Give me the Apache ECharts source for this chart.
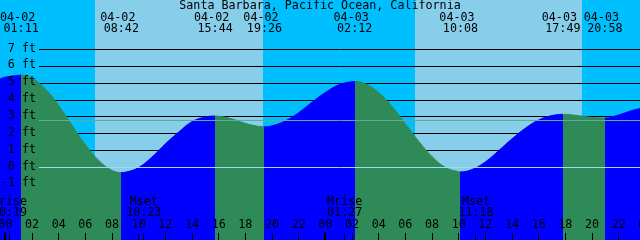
<!DOCTYPE html>
<html><head><meta charset="utf-8">
<script src="https://cdn.jsdelivr.net/npm/echarts@6/dist/echarts.min.js"></script>
<style>html,body{margin:0;padding:0;background:#00BFFF}#c{width:640px;height:240px}</style>
</head><body><div id="c"></div>
<script>
const titleText = 'Santa Barbara, Pacific Ocean, California';
// tide curve: hours since 04-02 00:00, height in feet
const tideHours = [-0.4, 0, 1, 1.18, 2, 3, 4, 5, 6, 7, 8, 8.7, 9, 10, 11, 12, 13, 14, 15, 15.73, 16, 17, 18, 19, 19.43, 20, 21, 22, 23, 24, 25, 26, 26.2, 27, 28, 29, 30, 31, 32, 33, 34, 34.13, 35, 36, 37, 38, 39, 40, 41, 41.82, 42, 43, 44, 44.97, 46, 47, 47.6];
const tideFeet = [5.26, 5.36, 5.47, 5.48, 5.30, 4.66, 3.68, 2.50, 1.36, 0.42, -0.17, -0.30, -0.28, 0.00, 0.62, 1.40, 2.10, 2.72, 3.00, 3.05, 3.04, 2.88, 2.62, 2.44, 2.42, 2.47, 2.76, 3.25, 3.87, 4.45, 4.90, 5.09, 5.10, 4.97, 4.45, 3.62, 2.60, 1.56, 0.65, 0.01, -0.25, -0.26, -0.12, 0.33, 1.00, 1.70, 2.33, 2.82, 3.08, 3.15, 3.15, 3.07, 2.97, 2.93, 3.12, 3.38, 3.50];
// high / low tide events
const extremaDates = ['04-02', '04-02', '04-02', '04-02', '04-03', '04-03', '04-03', '04-03'];
const extremaTimes = ['01:11', '08:42', '15:44', '19:26', '02:12', '10:08', '17:49', '20:58'];
// sun (hours since 04-02 00:00)
const sunriseHours = [6.72, 30.69];
const sunsetHours = [19.30, 43.27];
// moon events
const moonNames = ['Mrise', 'Mset', 'Mrise', 'Mset'];
const moonDates = ['04-02', '04-02', '04-03', '04-03'];
const moonTimes = ['00:19', '10:23', '01:27', '11:18'];
// axes
const depthLevels = [-1, 0, 1, 2, 3, 4, 5, 6, 7];
const hourTicks = [0, 2, 4, 6, 8, 10, 12, 14, 16, 18, 20, 22, 24, 26, 28, 30, 32, 34, 36, 38, 40, 42, 44, 46, 48];
const mslFeet = 2.8;
const datumFeet = 0;

const X_MIN = -0.4, X_MAX = 47.6, Y_MIN = -4.301, Y_MAX = 9.937;
const FONT = '11.7px "DejaVu Sans Mono"';
const NIGHT = '#00BFFF', DAY = '#87CEEB', RISE = '#0000FF', FALL = '#2E8B57';

function toHours(date, time) {
  const day = date === '04-03' ? 24 : 0;
  const [hh, mm] = time.split(':').map(Number);
  return day + hh + mm / 60;
}
const extremaHours = extremaTimes.map((t, i) => toHours(extremaDates[i], t));
const moonHours = moonTimes.map((t, i) => toHours(moonDates[i], t));
function feetAt(h) {
  let best = 0, bd = 1e9;
  tideHours.forEach((x, i) => { const d = Math.abs(x - h); if (d < bd) { bd = d; best = i; } });
  return tideFeet[best];
}
const bounds = [X_MIN].concat(extremaHours, [X_MAX]);
const pieces = [];
for (let k = 0; k < bounds.length - 1; k++) {
  const rising = feetAt(bounds[k + 1]) > feetAt(bounds[k]);
  const p = { gte: bounds[k], color: rising ? RISE : FALL };
  if (k < bounds.length - 2) p.lt = bounds[k + 1]; else p.lte = bounds[k + 1] + 1;
  pieces.push(p);
}
function txt(x, y, text, align) {
  return { type: 'text', style: { x: x, y: y, text: text, font: FONT, fill: '#000', align: align || 'center', verticalAlign: 'middle' } };
}
const snap = v => Math.round(v - 0.5) + 0.5;

const chart = echarts.init(document.getElementById('c'), null, { renderer: 'canvas' });
chart.setOption({
  animation: false,
  backgroundColor: NIGHT,
  grid: { left: 0, right: 0, top: 0, bottom: 0 },
  xAxis: { type: 'value', min: X_MIN, max: X_MAX, show: false },
  yAxis: { type: 'value', min: Y_MIN, max: Y_MAX, show: false },
  visualMap: { show: false, type: 'piecewise', dimension: 0, seriesIndex: 2, pieces: pieces, outOfRange: { color: RISE } },
  series: [
    { // daylight bands
      type: 'custom', z: 0, silent: true,
      data: sunriseHours.map((h, i) => [h, sunsetHours[i]]),
      renderItem: function (params, api) {
        const a = api.coord([api.value(0), Y_MAX]);
        const b = api.coord([api.value(1), Y_MIN]);
        const x0 = Math.round(a[0]), x1 = Math.round(b[0]);
        return { type: 'rect', shape: { x: x0, y: 0, width: x1 - x0, height: api.getHeight() }, style: { fill: DAY } };
      }
    },
    { // depth lines
      type: 'custom', z: 1, silent: true,
      data: depthLevels.map(v => [X_MAX, v]),
      renderItem: function (params, api) {
        const y = snap(api.coord([X_MAX, api.value(1)])[1]);
        return { type: 'line', shape: { x1: 39, y1: y, x2: api.getWidth(), y2: y }, style: { stroke: '#000', lineWidth: 1 } };
      }
    },
    { // tide
      type: 'line', z: 2, silent: true,
      data: tideHours.map((h, i) => [h, tideFeet[i]]),
      smooth: 0.4, symbol: 'none',
      lineStyle: { width: 1 },
      areaStyle: { opacity: 1, origin: 'start' }
    },
    { // MSL and datum lines
      type: 'custom', z: 3, silent: true,
      data: [[X_MAX, mslFeet], [X_MAX, datumFeet]],
      renderItem: function (params, api) {
        const y = snap(api.coord([X_MAX, api.value(1)])[1]);
        return { type: 'line', shape: { x1: 39, y1: y, x2: api.getWidth(), y2: y }, style: { stroke: params.dataIndex === 0 ? '#5faa98' : '#a3d8ee', lineWidth: 1 } };
      }
    },
    { // y labels
      type: 'custom', z: 4, silent: true,
      data: depthLevels.map(v => [X_MIN, v]),
      renderItem: function (params, api) {
        const y = api.coord([X_MIN, api.value(1)])[1];
        return txt(36, y - 1, api.value(1) + ' ft', 'right');
      }
    },
    { // tide event labels (top)
      type: 'custom', z: 4, silent: true,
      data: extremaHours.map(h => [h, Y_MAX]),
      renderItem: function (params, api) {
        const x = api.coord([api.value(0), Y_MAX])[0];
        const i = params.dataIndex;
        return { type: 'group', children: [txt(x - 3.5, 17.7, extremaDates[i]), txt(x, 29.2, extremaTimes[i])] };
      }
    },
    { // hour ticks and labels (bottom)
      type: 'custom', z: 4, silent: true,
      data: hourTicks.map(h => [h, Y_MIN]),
      renderItem: function (params, api) {
        const h = api.value(0);
        const x = api.coord([h, Y_MIN])[0];
        const H = api.getHeight();
        const mid = h % 24 === 0;
        const lab = String(h % 24).padStart(2, '0');
        const tick = mid
          ? { type: 'rect', shape: { x: Math.round(x) - 1, y: H - 8, width: 2, height: 8 }, style: { fill: '#000' } }
          : { type: 'line', shape: { x1: snap(x), y1: H - 7, x2: snap(x), y2: H }, style: { stroke: '#000', lineWidth: 1 } };
        return { type: 'group', children: [txt(x, 224.8, lab), tick] };
      }
    },
    { // moon events
      type: 'custom', z: 4, silent: true,
      data: moonHours.map(h => [h, Y_MIN]),
      renderItem: function (params, api) {
        const x = api.coord([api.value(0), Y_MIN])[0];
        const H = api.getHeight();
        const i = params.dataIndex;
        return { type: 'group', children: [
          txt(x, 202.2, moonNames[i]),
          txt(x, 213.3, moonTimes[i]),
          { type: 'line', shape: { x1: snap(x), y1: H - 7, x2: snap(x), y2: H }, style: { stroke: '#000', lineWidth: 1 } }
        ] };
      }
    }
  ],
  graphic: [{ type: 'text', x: 320, y: 5.5, z: 10, silent: true, style: { text: titleText, font: FONT, fill: '#000', align: 'center', verticalAlign: 'middle' } }]
});
</script></body></html>
